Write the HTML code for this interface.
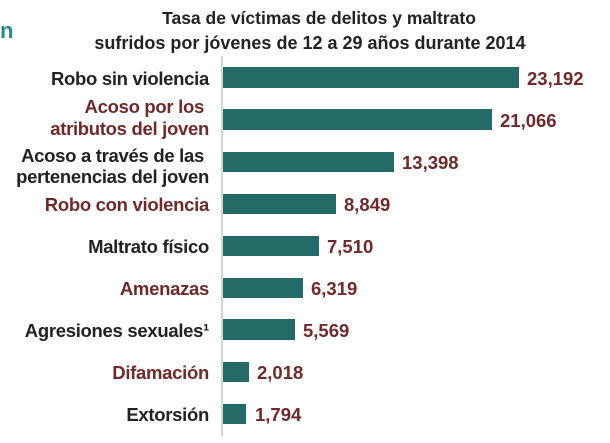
<!DOCTYPE html>
<html><head><meta charset="utf-8"><style>
body{margin:0;background:#fff;width:610px;height:443px;overflow:hidden}
svg{display:block}
text{font-family:"Liberation Sans",sans-serif;font-weight:bold}
</style></head><body>
<svg width="610" height="443" viewBox="0 0 610 443">
<text x="0" y="38" font-size="22" fill="#2a8a8a">n</text>
<text x="319" y="24" font-size="17.5" fill="#222" text-anchor="middle">Tasa de víctimas de delitos y maltrato</text>
<text x="310" y="49" font-size="18" fill="#222" text-anchor="middle">sufridos por  jóvenes de 12 a 29 años durante 2014</text>
<line x1="222" y1="56" x2="222" y2="436" stroke="#aaa" stroke-width="1"/>
<g fill="#246b68">
<rect x="223" y="67" width="296" height="21"/>
<rect x="223" y="109" width="269" height="21"/>
<rect x="223" y="152" width="171" height="20"/>
<rect x="223" y="194" width="113" height="20"/>
<rect x="223" y="236" width="96" height="20"/>
<rect x="223" y="278" width="80" height="20"/>
<rect x="223" y="319" width="72" height="21"/>
<rect x="223" y="362" width="26" height="20"/>
<rect x="223" y="404" width="23" height="20"/>
</g>
<g font-size="18.5" fill="#6e2a2a">
<text x="527" y="85">23,192</text>
<text x="500" y="127">21,066</text>
<text x="402" y="169">13,398</text>
<text x="344" y="211">8,849</text>
<text x="327" y="253">7,510</text>
<text x="311" y="295">6,319</text>
<text x="303" y="337">5,569</text>
<text x="257" y="379">2,018</text>
<text x="255" y="421">1,794</text>
</g>
<g font-size="18.5" text-anchor="end" letter-spacing="-0.3">
<text x="209" y="85" fill="#222">Robo sin violencia</text>
<text x="204" y="113" fill="#6e2a2a">Acoso por los</text>
<text x="209" y="135" fill="#6e2a2a">atributos del joven</text>
<text x="204" y="162" fill="#222">Acoso a través de las</text>
<text x="209" y="183" fill="#222">pertenencias del joven</text>
<text x="209" y="211" fill="#6e2a2a">Robo con violencia</text>
<text x="209" y="253" fill="#222">Maltrato físico</text>
<text x="209" y="295" fill="#6e2a2a">Amenazas</text>
<text x="209" y="337" fill="#222">Agresiones sexuales¹</text>
<text x="209" y="379" fill="#6e2a2a">Difamación</text>
<text x="209" y="421" fill="#222">Extorsión</text>
</g>
</svg>
</body></html>
